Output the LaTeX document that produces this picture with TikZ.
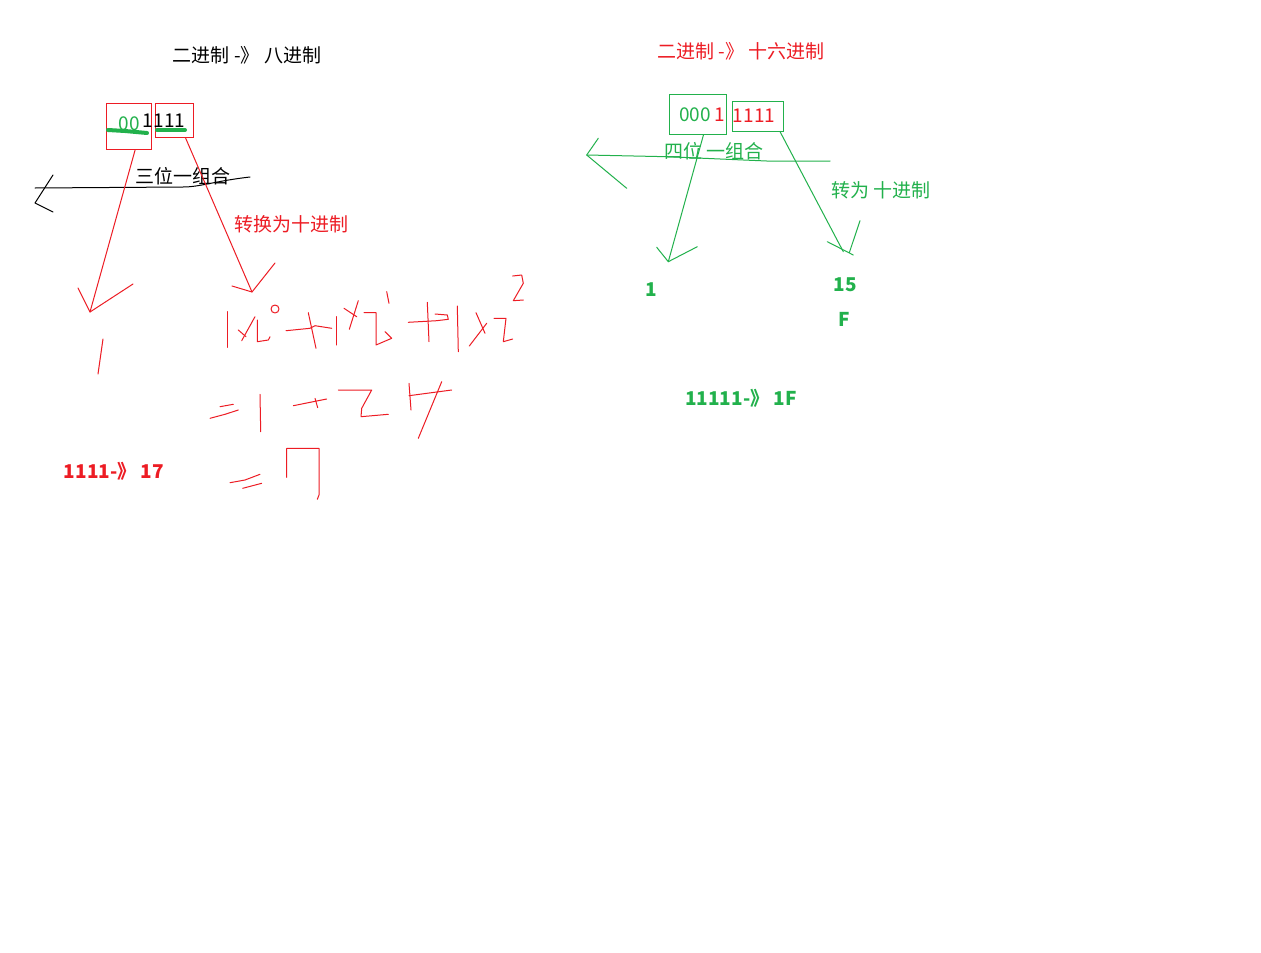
\documentclass[tikz,border=0pt]{standalone}
\usepackage{fontspec}
\newfontfamily\cjk{Noto Sans CJK SC}
\usetikzlibrary{calc}
\definecolor{pred}{RGB}{237,28,36}
\definecolor{pgreen}{RGB}{34,177,76}
\begin{document}
\begin{tikzpicture}[x=1pt,y=-1pt,
  every node/.style={font=\cjk\fontsize{19}{21}\selectfont, inner sep=0pt},
  pen/.style={line width=1pt, line cap=round, line join=round},
  redpen/.style={pen, draw=pred},
  greenpen/.style={pen, draw=pgreen},
  blackpen/.style={pen, draw=black},
  marker/.style={line width=4pt, line cap=round, draw=pgreen},
  redbox/.style={draw=pred, line width=1pt},
  greenbox/.style={draw=pgreen, line width=1pt}]
\fill[white] (0,0) rectangle (1261,953);
\useasboundingbox (0,0) rectangle (1261,953);

%binary to octal
\node (titleA) at (247,55) {二进制 -》 八进制};
\node[redbox, minimum width=45pt, minimum height=46pt] (octA) at (128.5,126) {};
\node[redbox, minimum width=38pt, minimum height=34pt] (octB) at (174,120) {};
\node[text=pgreen] (zerosA) at (129,124) {00};
\node (bitsA) at (164,121) {1111};
\draw[marker] (108,130) -- (125,131) -- (147,133);
\draw[marker] (157,130) -- (185,130);

%group line
\node (groupA) at (183,176) {三位一组合};
\draw[blackpen] (250,177) .. controls (215,181) and (200,187) .. (183,187) -- (35,188);
\draw[blackpen] (53,175) -- (35,203) -- (53,212);

%arrows down
\coordinate (tipA) at (90,312);
\coordinate (tipB) at (252,292);
\draw[redpen] (octA.-74) -- (tipA);
\draw[redpen] ($(tipA)+(-12,-24)$) -- (tipA) -- ($(tipA)+(43,-28)$);
\draw[redpen] (octB.-57) -- (tipB);
\draw[redpen] ($(tipB)+(-20,-6)$) -- (tipB) -- ($(tipB)+(23,-29)$);
\node[text=pred] (convA) at (291,224) {转换为十进制};
\draw[redpen] (103,339) -- (98,374);

%handwritten sum
\draw[redpen] (227.3,311.7) -- (227.3,347.3);
\draw[redpen] (255,316.7) -- (241.7,340.7);
\draw[redpen] (238.3,330) -- (246,336.7);
\draw[redpen] (257.3,320) -- (257.3,341.7) -- (268.3,340) -- (270,336.7);
\draw[redpen] (275,309) circle[radius=4];
\draw[redpen] (286,330.7) -- (310,328.3) -- (315,325.7) -- (331.7,328.3);
\draw[redpen] (308.3,312.7) -- (316,348.3);
\draw[redpen] (336.7,316.7) -- (336.7,345);
\draw[redpen] (344,308.3) -- (356.7,316.7);
\draw[redpen] (358.3,300.7) -- (349.3,329.3);
\draw[redpen] (364,312.7) -- (376,312.7) -- (376,345) -- (391.7,338.3) -- (385,331.7);
\draw[redpen] (386.7,291.7) -- (389,303.3);
\draw[redpen] (408.3,322.3) -- (436.7,320.7) -- (448.3,319.3) -- (447.3,315) -- (435,314);
\draw[redpen] (427.3,302.3) -- (429,341.7);
\draw[redpen] (457.3,306) -- (458.3,351.7);
\draw[redpen] (476,312.7) -- (485,333.3);
\draw[redpen] (486.7,323.3) -- (469.3,346);
\draw[redpen] (494,318.3) -- (506,318.3) -- (503.3,341.7) -- (512.7,339);
\draw[redpen] (512.7,276) -- (521.7,275) -- (523.3,283.3) -- (513.3,300.7) -- (523.3,300);
\draw[redpen] (220,406.7) -- (233.3,404.3);
\draw[redpen] (210,418.3) -- (225,414.3) -- (238.3,410);
\draw[redpen] (260,394.3) -- (260.7,431.7);
\draw[redpen] (293.3,405.7) -- (326.7,399);
\draw[redpen] (315,398.3) -- (317.7,407.7);
\draw[redpen] (338.3,390) -- (371.7,390) -- (361.7,408.3) -- (361,416.7) -- (388.3,414.3);
\draw[redpen] (409,383.3) -- (411,410);
\draw[redpen] (409,395.7) -- (451.7,390);
\draw[redpen] (441.7,381.7) -- (418.3,438.3);
\draw[redpen] (230,482.7) -- (245,480) -- (260,474.3);
\draw[redpen] (242.7,488.3) -- (261.7,483.3);
\draw[redpen] (286.7,477.3) -- (286.7,448.3) -- (319,448.3) -- (319,495) -- (317.3,499.3);
\node[text=pred, font=\cjk\fontsize{19}{21}\selectfont\bfseries] (resA) at (114,471) {1111-》 17};

%binary to hex
\node[text=pred] (titleB) at (741,51) {二进制 -》 十六进制};
\node[greenbox, minimum width=57.4pt, minimum height=40pt] (hexA) at (698,114.3) {};
\node[greenbox, minimum width=51pt, minimum height=30pt] (hexB) at (757.8,116) {};
\node[text=pgreen] (zerosB) at (695,115) {000};
\node[text=pred] (oneB) at (720,115) {1};
\node[text=pred] (bitsB) at (754,116) {1111};
\node[text=pgreen] (groupB) at (714,151) {四位 一组合};
\draw[greenpen] (830,161) -- (766.7,161) -- (666.7,156.7) -- (586.7,155);
\draw[greenpen] (598.3,138.3) -- (586.7,155) -- (626.7,188.3);

\coordinate (tipC) at (668.3,261.7);
\coordinate (tipD) at (843.3,251.7);
\draw[greenpen] (hexA.-75) -- (tipC);
\draw[greenpen] ($(tipC)+(-11.6,-14.4)$) -- (tipC) -- ($(tipC)+(29,-15)$);
\draw[greenpen] (hexB.-35) -- (tipD);
\draw[greenpen] ($(tipD)+(-16,-10)$) -- ($(tipD)+(10,3.3)$);
\draw[greenpen] ($(tipD)+(16.7,-31)$) -- ($(tipD)+(6,1)$);
\node[text=pgreen] (convB) at (881,190) {转为 十进制};

\node[text=pgreen, font=\cjk\fontsize{19}{21}\selectfont\bfseries] (valC) at (651,290) {1};
\node[text=pgreen, font=\cjk\fontsize{19}{21}\selectfont\bfseries] (valD) at (845,285) {15};
\node[text=pgreen, font=\cjk\fontsize{19}{21}\selectfont\bfseries] (hexF) at (844,319) {F};
\node[text=pgreen, font=\cjk\fontsize{19}{21}\selectfont\bfseries] (resB) at (741,398) {11111-》 1F};
\end{tikzpicture}
\end{document}
